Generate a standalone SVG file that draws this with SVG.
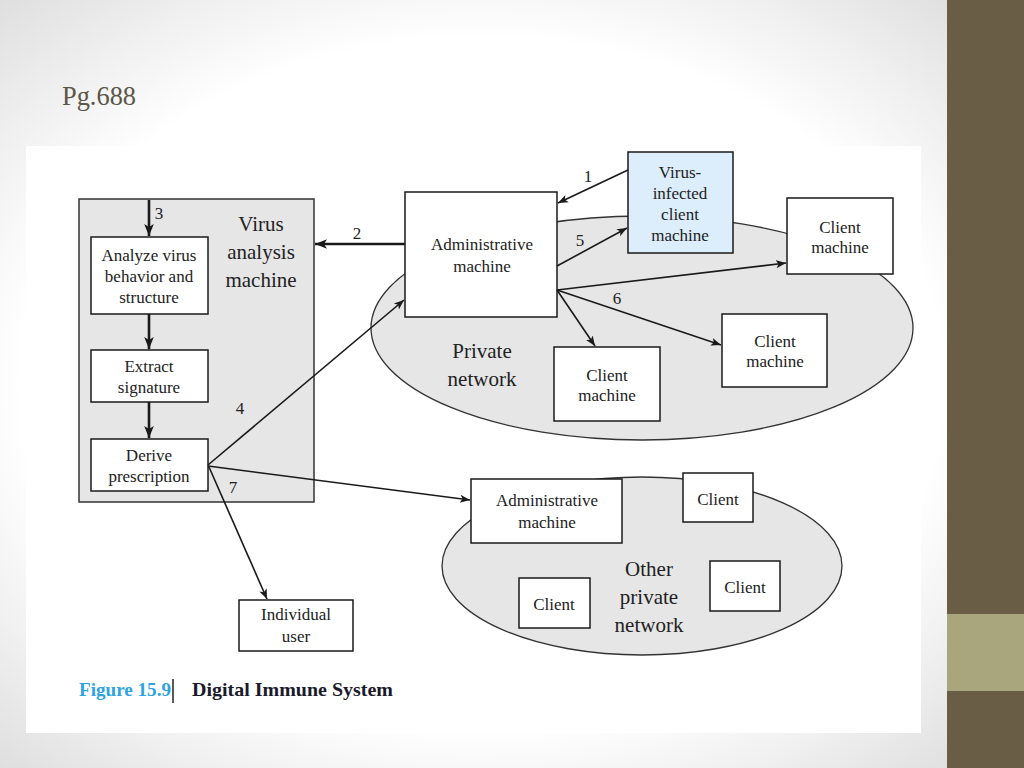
<svg xmlns="http://www.w3.org/2000/svg" width="1024" height="768" viewBox="0 0 1024 768">
<defs>
<radialGradient id="bg" cx="0.47" cy="0.5" r="0.75">
<stop offset="0" stop-color="#ffffff"/>
<stop offset="0.6" stop-color="#ffffff"/>
<stop offset="1" stop-color="#d6d6d6"/>
</radialGradient>
<marker id="ah" viewBox="0 0 10 10" refX="10" refY="5" markerWidth="10" markerHeight="10" markerUnits="userSpaceOnUse" orient="auto">
<path d="M0,1 L10,5 L0,9 L2.5,5 Z" fill="#1a1a1a"/>
</marker>
<marker id="ahb" viewBox="0 0 10 10" refX="10" refY="5" markerWidth="12" markerHeight="12" markerUnits="userSpaceOnUse" orient="auto">
<path d="M0,1 L10,5 L0,9 L2.5,5 Z" fill="#1a1a1a"/>
</marker>
</defs>
<style>
.box{fill:#ffffff;stroke:#1a1a1a;stroke-width:1.5}
.t{font-family:"Liberation Serif","Times New Roman",serif;font-size:17px;fill:#222;text-anchor:middle}
.big{font-size:21px}
.ln{stroke:#1a1a1a;stroke-width:1.6;fill:none;marker-end:url(#ah)}
.thk{stroke:#1a1a1a;stroke-width:2.6;fill:none;marker-end:url(#ahb)}
.net{fill:#e6e6e6;stroke:#333;stroke-width:1.3}
</style>
<rect x="0" y="0" width="1024" height="768" fill="url(#bg)"/>
<rect x="947" y="0" width="77" height="768" fill="#695d46"/>
<rect x="947" y="614" width="77" height="77" fill="#a9a57d"/>
<text x="62" y="105" font-family="Liberation Serif,serif" font-size="28" fill="#5a5648" textLength="74" lengthAdjust="spacingAndGlyphs">Pg.688</text>
<rect x="26" y="146" width="895" height="587" fill="#ffffff"/>

<g id="private-network"><ellipse class="net" cx="642" cy="328" rx="271" ry="112"/><text class="t big" x="482" y="358">Private</text><text class="t big" x="482" y="386">network</text></g>
<g id="other-network"><ellipse class="net" cx="642" cy="566" rx="200" ry="89"/><text class="t big" x="649" y="576">Other</text><text class="t big" x="649" y="604">private</text><text class="t big" x="649" y="632">network</text></g>

<g id="virus-analysis"><rect x="79" y="199" width="235" height="303" fill="#e6e6e6" stroke="#333" stroke-width="1.5"/><text class="t big" x="261" y="231">Virus</text><text class="t big" x="261" y="259">analysis</text><text class="t big" x="261" y="287">machine</text></g>
<g id="analyze"><rect class="box" x="91" y="237" width="117" height="77"/><text class="t" x="149" y="261">Analyze virus</text><text class="t" x="149" y="282">behavior and</text><text class="t" x="149" y="303">structure</text></g>
<g id="extract"><rect class="box" x="91" y="350" width="117" height="52"/><text class="t" x="149" y="372">Extract</text><text class="t" x="149" y="393">signature</text></g>
<g id="derive"><rect class="box" x="91" y="439" width="117" height="52"/><text class="t" x="149" y="461">Derive</text><text class="t" x="149" y="482">prescription</text></g>

<g id="admin"><rect class="box" x="405" y="192" width="152" height="125"/><text class="t" x="482" y="250">Administrative</text><text class="t" x="482" y="272">machine</text></g>
<g id="infected"><rect x="628" y="152" width="105" height="101" fill="#dcedfb" stroke="#1a1a1a" stroke-width="1.5"/><text class="t" x="680" y="178">Virus-</text><text class="t" x="680" y="199">infected</text><text class="t" x="680" y="220">client</text><text class="t" x="680" y="241">machine</text></g>
<g id="client1"><rect class="box" x="787" y="198" width="106" height="76"/><text class="t" x="840" y="233">Client</text><text class="t" x="840" y="253">machine</text></g>
<g id="client2"><rect class="box" x="722" y="314" width="105" height="73"/><text class="t" x="775" y="347">Client</text><text class="t" x="775" y="367">machine</text></g>
<g id="client3"><rect class="box" x="554" y="347" width="106" height="74"/><text class="t" x="607" y="381">Client</text><text class="t" x="607" y="401">machine</text></g>

<g id="admin2"><rect class="box" x="471" y="479" width="151" height="64"/><text class="t" x="547" y="506">Administrative</text><text class="t" x="547" y="528">machine</text></g>
<g id="oclient1"><rect class="box" x="683" y="473" width="70" height="49"/><text class="t" x="718" y="505">Client</text></g>
<g id="oclient2"><rect class="box" x="710" y="561" width="70" height="50"/><text class="t" x="745" y="593">Client</text></g>
<g id="oclient3"><rect class="box" x="519" y="578" width="71" height="50"/><text class="t" x="554" y="610">Client</text></g>
<g id="user"><rect class="box" x="239" y="600" width="114" height="51"/><text class="t" x="296" y="620">Individual</text><text class="t" x="296" y="642">user</text></g>

<g id="connectors">
<line class="thk" x1="149" y1="200" x2="149" y2="236"/>
<line class="thk" x1="149" y1="314" x2="149" y2="349"/>
<line class="thk" x1="149" y1="402" x2="149" y2="438"/>
<line class="thk" x1="405" y1="244" x2="315" y2="244"/>
<line class="ln" x1="628" y1="170" x2="558" y2="203"/>
<line class="ln" x1="557" y1="266" x2="627" y2="228"/>
<line class="ln" x1="557" y1="290" x2="786" y2="263"/>
<line class="ln" x1="557" y1="290" x2="721" y2="345"/>
<line class="ln" x1="557" y1="290" x2="595" y2="346"/>
<line class="ln" x1="208" y1="465" x2="404" y2="300"/>
<line class="ln" x1="208" y1="466" x2="470" y2="500"/>
<line class="ln" x1="209" y1="467" x2="267" y2="599"/>
</g>
<g id="labels">
<text class="t" x="159" y="219">3</text>
<text class="t" x="357" y="239">2</text>
<text class="t" x="588" y="182">1</text>
<text class="t" x="580" y="246">5</text>
<text class="t" x="617" y="304">6</text>
<text class="t" x="240" y="414">4</text>
<text class="t" x="233" y="493">7</text>
</g>
<g id="caption">
<text x="79" y="696" font-family="Liberation Serif,serif" font-weight="bold" font-size="19" fill="#2ea3e3" textLength="92" lengthAdjust="spacingAndGlyphs">Figure 15.9</text>
<line x1="173" y1="679" x2="173" y2="703" stroke="#222" stroke-width="1.5"/>
<text x="192" y="696" font-family="Liberation Serif,serif" font-weight="bold" font-size="19" fill="#1a1a2a" textLength="201" lengthAdjust="spacingAndGlyphs">Digital Immune System</text>
</g>
</svg>
